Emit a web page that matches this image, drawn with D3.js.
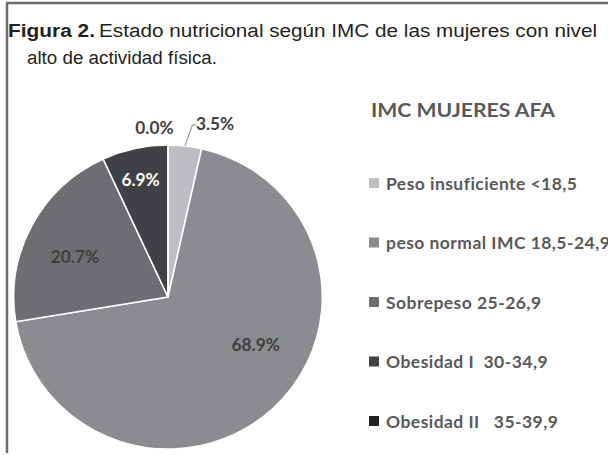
<!DOCTYPE html>
<html lang="es">
<head>
<meta charset="UTF-8">
<title>IMC mujeres AFA</title>
<script src="https://d3js.org/d3.v7.min.js"></script>
<style>
    body { margin: 0; background: #fff; }
    svg { display: block; }
    .title { font-family: "Liberation Sans", Arial, sans-serif; font-size: 18px; fill: #231f20; }
    .lbl { font-family: Lato, "Open Sans", sans-serif; font-weight: 700; font-size: 17px; }
    .leg { font-family: Lato, "Open Sans", sans-serif; font-weight: 700; font-size: 17.5px; letter-spacing: 0.45px; fill: #595959; }
    .legtitle { font-family: Lato, "Open Sans", sans-serif; font-weight: 700; font-size: 18px; fill: #595959; }
</style>
</head>
<body>
<svg id="chart" width="608" height="455"></svg>
<script>
// categories and values (percent)
const categories = ["Peso insuficiente <18,5", "peso normal IMC 18,5-24,9", "Sobrepeso 25-26,9", "Obesidad I  30-34,9", "Obesidad II   35-39,9"];
const values = [3.5, 68.9, 20.7, 6.9, 0.0];
const colors = ["#bdbec1", "#8b8c8f", "#6d6e71", "#404144", "#231f20"];
const labelText = ["3.5%", "68.9%", "20.7%", "6.9%", "0.0%"];

const svg = d3.select("#chart");

// frame
svg.append("path")
    .attr("d", "M608,3 H7 V453")
    .attr("fill", "none")
    .attr("stroke", "#6c6c6c")
    .attr("stroke-width", 2.5);

// caption
const t1 = svg.append("g");
t1.append("text").attr("class", "title").attr("x", 8).attr("y", 37)
    .attr("font-weight", 700).attr("textLength", 87).attr("lengthAdjust", "spacingAndGlyphs")
    .text("Figura 2.");
t1.append("text").attr("class", "title").attr("x", 99).attr("y", 37)
    .attr("textLength", 498).attr("lengthAdjust", "spacingAndGlyphs")
    .text("Estado nutricional según IMC de las mujeres con nivel");
t1.append("text").attr("class", "title").attr("x", 27).attr("y", 64)
    .attr("textLength", 190).attr("lengthAdjust", "spacingAndGlyphs")
    .text("alto de actividad física.");

// pie
const cx = 168, cy = 297, r = 152;
const pie = d3.pie().sort(null).value(d => d);
const arcs = pie(values);
const arc = d3.arc().innerRadius(0).outerRadius(r);

const g = svg.append("g").attr("transform", `translate(${cx},${cy}) scale(1.015,1)`);
g.selectAll("path")
    .data(arcs)
    .join("path")
    .attr("d", arc)
    .attr("fill", (d, i) => colors[i])
    .attr("stroke", "#fff")
    .attr("stroke-width", 1.5);

// label placement (radius fraction, angle in degrees)
const labelLayout = [
    {k: 1.18, a: 15},
    {k: 0.65, a: 119},
    {k: 0.66, a: 294},
    {k: 0.79, a: 347},
    {k: 1.12, a: 355.5}
];

arcs.forEach((d, i) => {
    const L = labelLayout[i];
    const ang = L.a * Math.PI / 180;
    g.append("text")
        .attr("class", "lbl")
        .attr("x", Math.sin(ang) * r * L.k)
        .attr("y", -Math.cos(ang) * r * L.k)
        .attr("text-anchor", "middle")
        .attr("dominant-baseline", "central")
        .attr("fill", i === 3 ? "#fff" : "#3f3f3f")
        .text(labelText[i]);
});

// leader line for the small slice
const mid = (arcs[0].startAngle + arcs[0].endAngle) / 2;
const p0 = [Math.sin(mid) * r, -Math.cos(mid) * r];
g.append("polyline")
    .attr("points", [[p0[0], p0[1]], [24, -172], [28, -172]].map(p => p.join(",")).join(" "))
    .attr("fill", "none")
    .attr("stroke", "#8c8c8c")
    .attr("stroke-width", 1);

// legend
svg.append("text").attr("class", "legtitle").attr("x", 371).attr("y", 117)
    .attr("textLength", 184).attr("lengthAdjust", "spacingAndGlyphs")
    .text("IMC MUJERES AFA");
const legend = svg.append("g");
const ly = d3.scalePoint().domain(categories).range([183, 421]);
categories.forEach((c, i) => {
    legend.append("rect")
        .attr("x", 369).attr("y", ly(c) - 5)
        .attr("width", 10).attr("height", 10)
        .attr("fill", colors[i]);
    legend.append("text")
        .attr("class", "leg")
        .attr("x", 386).attr("y", ly(c))
        .attr("dominant-baseline", "central")
        .style("white-space", "pre")
        .text(c);
});
</script>
</body>
</html>
